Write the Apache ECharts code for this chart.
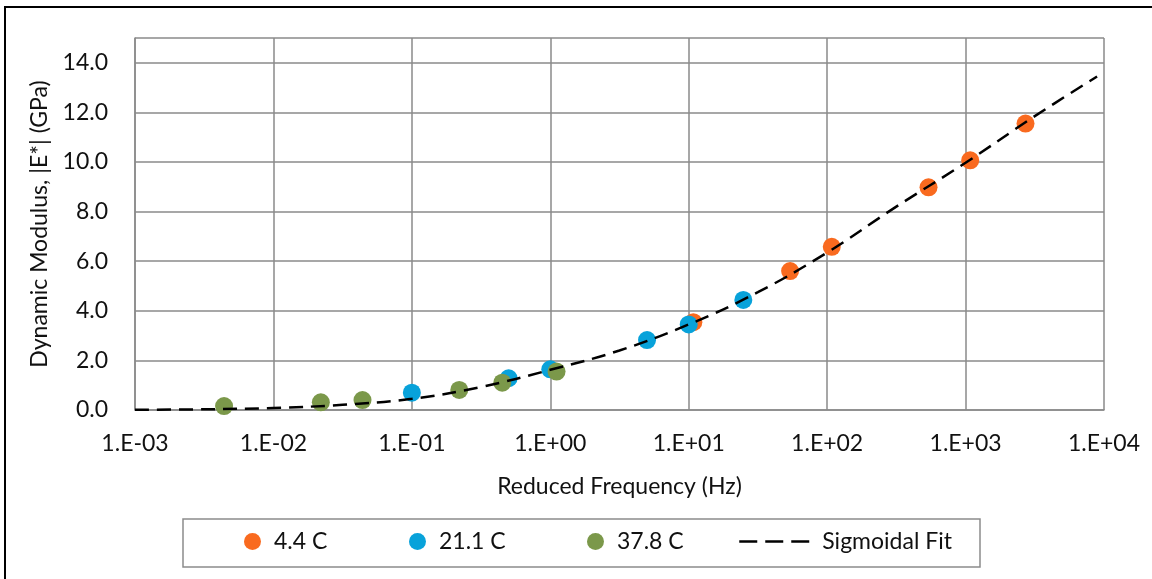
<!DOCTYPE html>
<html>
<head>
<meta charset="utf-8">
<script src="https://cdn.jsdelivr.net/npm/echarts@6/dist/echarts.min.js"></script>
<style>
  html, body { margin: 0; padding: 0; background: #fff; }
  #chart { width: 1152px; height: 579px; }
</style>
</head>
<body>
<div id="chart"></div>
<script>
// Reduced frequency (Hz) and dynamic modulus |E*| (GPa) for each test temperature
const freq44 = [10.8, 54, 108, 540, 1080, 2710];
const mod44 = [3.54, 5.60, 6.58, 8.98, 10.07, 11.55];

const freq211 = [0.1, 0.5, 1.0, 5.0, 10, 24.8];
const mod211 = [0.70, 1.28, 1.64, 2.82, 3.45, 4.44];

const freq378 = [0.0044, 0.022, 0.044, 0.22, 0.45, 1.11];
const mod378 = [0.16, 0.31, 0.40, 0.81, 1.10, 1.55];

// Sigmoidal master curve, sampled every half decade
const fitFreq = [0.001, 0.00316, 0.01, 0.0316, 0.1, 0.316, 1, 3.16, 10, 31.6, 100, 316, 1000, 3162, 8913];
const fitMod = [0.01, 0.03, 0.08, 0.21, 0.45, 0.93, 1.62, 2.40, 3.45, 4.75, 6.35, 8.20, 9.97, 11.85, 13.45];

const seriesNames = ['4.4 C', '21.1 C', '37.8 C', 'Sigmoidal Fit'];
const colors = ['#F96A1F', '#08A2DA', '#7B984A', '#000000'];

const pairs = (xs, ys) => xs.map((x, i) => [x, ys[i]]);

const FONT = 'Lato, "Open Sans", sans-serif';
const FS = 23;
const textColor = '#111111';
const gridColor = '#8a8a8a';

function legendAt(name, left, iconW, iconH, extra) {
  return Object.assign({
    data: [name],
    left: left,
    top: 530,
    itemWidth: iconW,
    itemHeight: iconH,
    itemGap: 0,
    padding: 0,
    selectedMode: false,
    textStyle: { fontFamily: FONT, fontSize: FS, color: textColor, padding: [0, 0, 0, 8] }
  }, extra || {});
}

const chart = echarts.init(document.getElementById('chart'));
chart.setOption({
  animation: false,
  backgroundColor: '#fff',
  color: colors,
  grid: { left: 135, right: 48, top: 38, bottom: 169, show: false },
  graphic: [
    {
      type: 'rect',
      shape: { x: 5, y: 7, width: 1300, height: 700 },
      style: { fill: 'none', stroke: '#000', lineWidth: 2 },
      silent: true
    },
    {
      type: 'rect',
      shape: { x: 183, y: 519, width: 797, height: 48 },
      style: { fill: 'none', stroke: '#8c8c8c', lineWidth: 1.5 },
      silent: true
    }
  ],
  legend: [
    legendAt(seriesNames[0], 244, 17, 17),
    legendAt(seriesNames[1], 409, 17, 17),
    legendAt(seriesNames[2], 587, 17, 17),
    legendAt(seriesNames[3], 738, 70, 14, {
      itemStyle: { opacity: 0 },
      lineStyle: { color: '#000', width: 2.5, type: [18, 8] }
    })
  ],
  xAxis: {
    type: 'log',
    logBase: 10,
    min: 0.001,
    max: 10000,
    name: 'Reduced Frequency (Hz)',
    nameLocation: 'middle',
    nameGap: 65,
    nameTextStyle: { fontFamily: FONT, fontSize: FS, color: textColor },
    axisLine: { show: true, lineStyle: { color: gridColor, width: 1.5 } },
    axisTick: { show: false },
    splitLine: { show: true, lineStyle: { color: gridColor, width: 1.5 } },
    axisLabel: {
      margin: 22,
      fontFamily: FONT,
      fontSize: FS,
      color: textColor,
      formatter: function (v) {
        const e = Math.round(Math.log10(v));
        const s = e < 0 ? '-' : '+';
        const a = Math.abs(e);
        return '1.E' + s + (a < 10 ? '0' : '') + a;
      }
    }
  },
  yAxis: {
    type: 'value',
    min: 0,
    max: 15,
    interval: 2,
    name: 'Dynamic Modulus, |E*| (GPa)',
    nameLocation: 'middle',
    nameGap: 84,
    nameTextStyle: { fontFamily: FONT, fontSize: FS, color: textColor },
    axisLine: { show: true, lineStyle: { color: gridColor, width: 1.5 } },
    axisTick: { show: false },
    splitLine: { show: true, lineStyle: { color: gridColor, width: 1.5 } },
    axisLabel: {
      margin: 27,
      fontFamily: FONT,
      fontSize: FS,
      color: textColor,
      formatter: function (v) { return v > 14 ? '' : v.toFixed(1); }
    }
  },
  series: [
    {
      name: seriesNames[3],
      type: 'line',
      data: pairs(fitFreq, fitMod),
      smooth: 0.4,
      symbol: 'none',
      lineStyle: { color: '#000', width: 2.5, type: [14, 8] },
      z: 3
    },
    {
      name: seriesNames[0],
      type: 'scatter',
      data: pairs(freq44, mod44),
      symbolSize: 18,
      itemStyle: { color: colors[0], opacity: 1 },
      z: 2
    },
    {
      name: seriesNames[1],
      type: 'scatter',
      data: pairs(freq211, mod211),
      symbolSize: 18,
      itemStyle: { color: colors[1], opacity: 1 },
      z: 2
    },
    {
      name: seriesNames[2],
      type: 'scatter',
      data: pairs(freq378, mod378),
      symbolSize: 18,
      itemStyle: { color: colors[2], opacity: 1 },
      z: 2
    }
  ]
});
</script>
</body>
</html>
